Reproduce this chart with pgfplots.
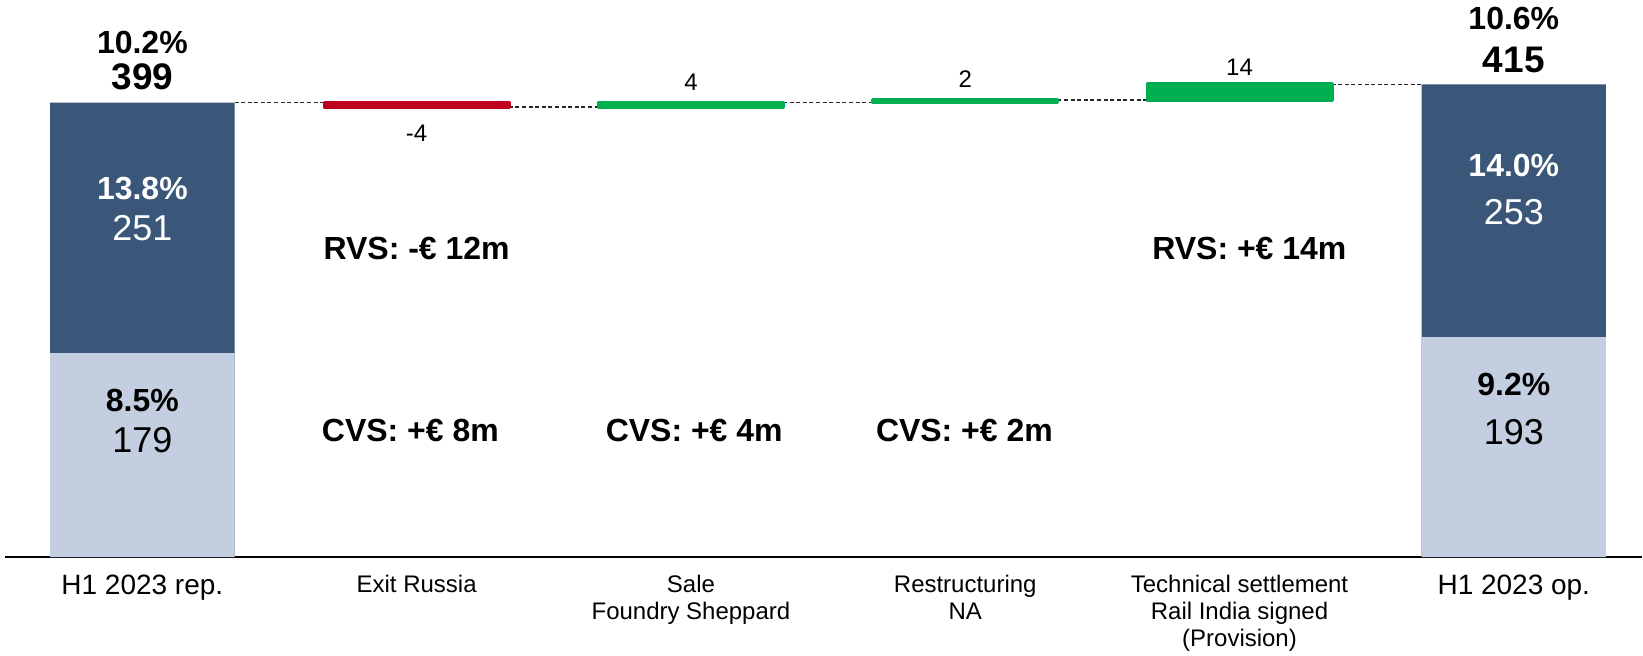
\documentclass[border=0pt]{standalone}
\usepackage{fontspec}
\setmainfont{Liberation Sans}
\usepackage{pgfplots}
\pgfplotsset{compat=1.18}

\definecolor{opdark}{RGB}{58,87,122}
\definecolor{oplight}{RGB}{195,206,224}
\definecolor{lossred}{RGB}{192,0,32}
\definecolor{gaingreen}{RGB}{0,176,80}
\definecolor{connector}{RGB}{40,40,40}

\pgfplotsset{
  bridge/.style={
    scale only axis, width=819pt, height=278.73pt,
    xmin=-0.5, xmax=5.467, ymin=0, ymax=489,
    bar width=0.672, clip=false,
  },
  step/.style={connector, line width=0.75pt, dash pattern=on 2pt off 1.3pt, forget plot},
  delta/.style={line width=1.8pt, line join=round},
}

\begin{document}
\begin{tikzpicture}[
  big/.style={font=\fontsize{18.5}{20}\selectfont\bfseries, inner sep=0pt, anchor=center},
  pct/.style={font=\fontsize{16}{18}\selectfont\bfseries, inner sep=0pt, anchor=center},
  seg/.style={font=\fontsize{18}{20}\selectfont, inner sep=0pt, anchor=center},
  chg/.style={font=\fontsize{12}{14}\selectfont, inner sep=0pt, anchor=center},
  note/.style={font=\fontsize{16}{18}\selectfont\bfseries, inner sep=0pt, anchor=center},
]
% totals, connectors and annotations
\begin{axis}[bridge,
  axis x line*=bottom, axis y line=none,
  x axis line style={line width=1.1pt, black},
  xtick={0,1,2,3,4,5}, ytick=\empty,
  major tick length=0pt,
  xticklabels={
    {\fontsize{14}{16}\selectfont H1 2023 rep.},
    {Exit Russia},
    {Sale\\Foundry Sheppard},
    {Restructuring\\NA},
    {Technical settlement\\Rail India signed\\(Provision)},
    {\fontsize{14}{16}\selectfont H1 2023 op.}},
  xticklabel style={font=\fontsize{12}{13.4}\selectfont, align=center,
    anchor=north, inner sep=0pt, yshift=-9pt, text=black},
]
% EBIT total (RVS on top) and the CVS share below it
\addplot[ybar, bar shift=0pt, fill=opdark, draw=none] coordinates {(0,399) (5,415)};
\addplot[ybar, bar shift=0pt, fill=oplight, draw=none] coordinates {(0,179) (5,193)};

% dashed steps between the bridge elements
\addplot[step] coordinates {(0.336,399) (0.664,399)};
\addplot[step] coordinates {(1.336,395) (1.664,395)};
\addplot[step] coordinates {(2.336,399) (2.664,399)};
\addplot[step] coordinates {(3.336,401) (3.664,401)};
\addplot[step] coordinates {(4.336,415) (4.664,415)};

% value labels
\node[pct] at (axis cs:0,452) {10.2\%};
\node[big] at (axis cs:0,422) {399};
\node[pct] at (axis cs:5,472.5) {10.6\%};
\node[big] at (axis cs:5,436.7) {415};

\node[pct, text=white] at (axis cs:0,323.6) {13.8\%};
\node[seg, text=white] at (axis cs:0,288.6) {251};
\node[pct] at (axis cs:0,137) {8.5\%};
\node[seg] at (axis cs:0,102.9) {179};

\node[pct, text=white] at (axis cs:5,343.8) {14.0\%};
\node[seg, text=white] at (axis cs:5,302.4) {253};
\node[pct] at (axis cs:5,151.7) {9.2\%};
\node[seg] at (axis cs:5,109.4) {193};

\node[chg] at (axis cs:1,372.3) {-4};
\node[chg] at (axis cs:2,416.4) {4};
\node[chg] at (axis cs:3,419.2) {2};
\node[chg] at (axis cs:4,430.2) {14};

% split by division
\node[note] at (axis cs:1.0,271.2) {RVS: -€ 12m};
\node[note] at (axis cs:4.036,271.2) {RVS: +€ 14m};
\node[note] at (axis cs:0.977,111.2) {CVS: +€ 8m};
\node[note] at (axis cs:2.012,111.2) {CVS: +€ 4m};
\node[note] at (axis cs:2.997,111.2) {CVS: +€ 2m};

% page frame
\path (axis cs:-0.519,-86.4) rectangle (axis cs:5.467,489);
\end{axis}

% positive effects
\begin{axis}[bridge, hide axis, ybar stacked]
\addplot[draw=none, fill=none] coordinates {(2,395) (3,399) (4,401)};
\addplot[delta, fill=gaingreen, draw=gaingreen] coordinates {(2,4) (3,2) (4,14)};
\end{axis}

% negative effect
\begin{axis}[bridge, hide axis, ybar stacked, stack negative=on previous]
\addplot[draw=none, fill=none] coordinates {(1,399)};
\addplot[delta, fill=lossred, draw=lossred] coordinates {(1,-4)};
\end{axis}
\end{tikzpicture}
\end{document}
